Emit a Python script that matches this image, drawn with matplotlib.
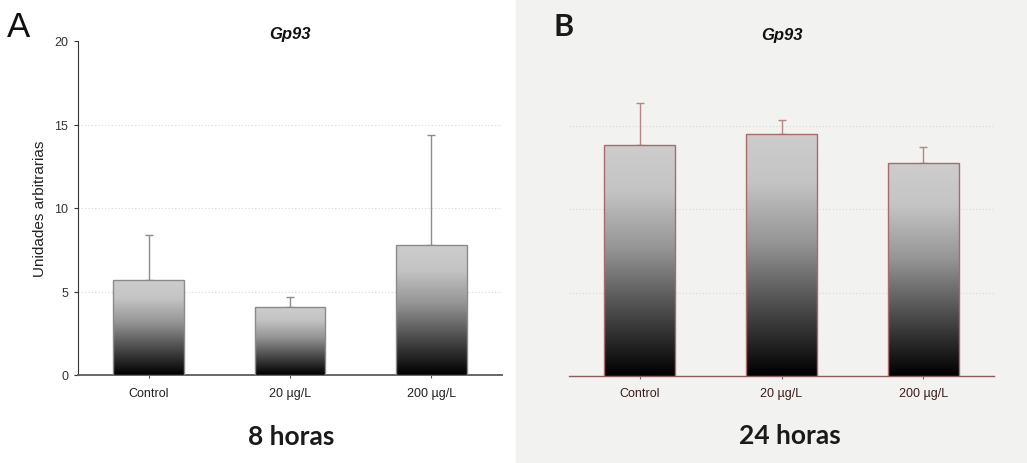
import matplotlib
matplotlib.use("Agg")
import matplotlib.pyplot as plt
import numpy as np
from matplotlib.colors import LinearSegmentedColormap
from matplotlib.patches import Rectangle

groups = ["Control", "20 µg/L", "200 µg/L"]
mean_8h = [5.7, 4.1, 7.8]
sd_8h = [2.7, 0.6, 6.6]
mean_24h = [13.85, 14.5, 12.75]
sd_24h = [2.5, 0.85, 0.95]
y_ticks = [0, 5, 10, 15, 20]

W, H = 1027, 464
BG_RIGHT = "#f2f3f1"

# vertical grey-to-black fill used inside every bar: black at the base,
# brightening steadily to a light grey near the top
bar_cmap = LinearSegmentedColormap.from_list(
    "bar", [(0.0, "#000000"), (0.08, "#151515"), (0.35, "#5e5e5e"),
            (0.55, "#959595"), (0.8, "#c4c4c4"), (1.0, "#cdcdcd")], N=512)


def px_axes(fig, x0, x1, y_bottom, y_top):
    return fig.add_axes([x0 / W, (H - y_bottom) / H, (x1 - x0) / W,
                         (y_bottom - y_top) / H])


def gradient_bars(ax, means, errs, edge, err_color):
    x = np.arange(len(means))
    grad = np.linspace(1, 0, 512).reshape(-1, 1)
    bars = ax.bar(x, means, width=0.5, facecolor="none", edgecolor=edge,
                  linewidth=1.0, zorder=4)
    for b in bars:
        x0, w, h = b.get_x(), b.get_width(), b.get_height()
        im = ax.imshow(grad, cmap=bar_cmap, vmin=0, vmax=1, aspect="auto",
                       extent=[x0, x0 + w, 0, h], zorder=3,
                       interpolation="bilinear")
        clip = Rectangle((x0, 0), w, h, transform=ax.transData)
        im.set_clip_path(clip)
    ax.errorbar(x, means, yerr=[np.zeros(len(errs)), errs], fmt="none",
                ecolor=err_color, elinewidth=1.0, capsize=3, capthick=1.0,
                zorder=2)
    ax.set_xticks(x)
    ax.set_xticklabels(groups)
    ax.set_xlim(-0.5, 2.5)
    ax.set_ylim(0, 20)
    for v in y_ticks[1:-1]:
        ax.axhline(v, color="#d8d8d8", lw=0.8, ls=(0, (1, 2)), zorder=1)


fig = plt.figure(figsize=(W / 100, H / 100), dpi=100)
fig.patches.append(Rectangle((516 / W, 0), 1 - 516 / W, 1,
                             transform=fig.transFigure, color=BG_RIGHT,
                             zorder=-5))

# --- 8 hours panel
ax1 = px_axes(fig, 78, 502, 376, 42)
ax1.set_facecolor("none")
gradient_bars(ax1, mean_8h, sd_8h, "#8a8a8a", "#8c8c8c")
for s in ("top", "right"):
    ax1.spines[s].set_visible(False)
ax1.spines["left"].set_color("#333333")
ax1.spines["bottom"].set_color("#666666")
ax1.spines["bottom"].set_linewidth(1.4)
ax1.set_yticks(y_ticks)
ax1.tick_params(axis="y", direction="out", length=3, colors="#333333",
                labelsize=9, pad=4)
ax1.tick_params(axis="x", direction="inout", length=5, colors="#555555",
                labelcolor="#222222", labelsize=9, pad=6)
for lab in ax1.get_xticklabels() + ax1.get_yticklabels():
    lab.set_fontfamily("Liberation Sans")
ax1.set_ylabel("Unidades arbitrarias", family="Liberation Sans", size=11,
               color="#222222", labelpad=5)
ax1.set_title("Gp93", family="Liberation Sans", size=12, weight="bold",
              style="italic", pad=-4, color="#111111")

# --- 24 hours panel
ax2 = px_axes(fig, 569, 994, 377, 43)
ax2.set_facecolor("none")
gradient_bars(ax2, mean_24h, sd_24h, "#a86a6a", "#b88484")
for s in ("top", "right", "left"):
    ax2.spines[s].set_visible(False)
ax2.spines["bottom"].set_color("#8a5e5e")
ax2.spines["bottom"].set_linewidth(1.0)
ax2.set_yticks([])
ax2.tick_params(axis="x", direction="inout", length=4, colors="#8a5e5e",
                labelcolor="#3c1c1c", labelsize=9, pad=6)
for lab in ax2.get_xticklabels():
    lab.set_fontfamily("Liberation Sans")
ax2.set_title("Gp93", family="Liberation Sans", size=12, weight="bold",
              style="italic", pad=-4, color="#111111")

# panel letters and time labels
fig.text(7 / W, 1 - 37 / H, "A", family="Liberation Sans", size=25,
         color="#111111")
fig.text(554 / W, 1 - 36 / H, "B", family="Lato", size=22, weight="bold",
         color="#1a1a1a")
fig.text(291 / W, 1 - 437 / H, "8 horas", family="Lato", weight="bold",
         size=19, ha="center", va="center", color="#1a1a1a")
fig.text(790 / W, 1 - 436 / H, "24 horas", family="Lato", weight="bold",
         size=19, ha="center", va="center", color="#1a1a1a")

fig.savefig("out.png", dpi=100)
